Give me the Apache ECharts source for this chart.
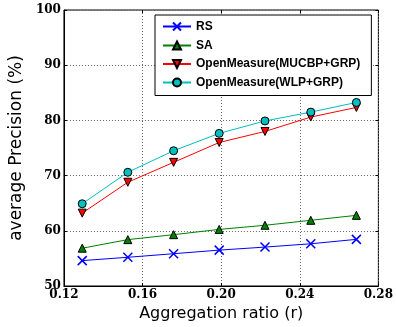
<!DOCTYPE html>
<html>
<head>
<meta charset="utf-8">
<script src="https://cdn.jsdelivr.net/npm/echarts@6/dist/echarts.min.js"></script>
<style>
  html, body { margin: 0; padding: 0; background: #fff; }
  #chart { width: 396px; height: 327px; }
</style>
</head>
<body>
<div id="chart"></div>
<script>
const ratios = [0.1293, 0.1525, 0.1758, 0.1990, 0.2223, 0.2456, 0.2688];
const rs = [54.6, 55.2, 55.85, 56.5, 57.05, 57.65, 58.45];
const sa = [56.85, 58.4, 59.3, 60.25, 61.0, 61.9, 62.8];
const mucbp = [63.2, 68.8, 72.4, 76.0, 78.0, 80.6, 82.35];
const wlp = [64.9, 70.6, 74.5, 77.65, 79.9, 81.5, 83.25];

const pairs = (ys) => ratios.map((x, i) => [x, ys[i]]);

const tickFont = { fontFamily: 'DejaVu Serif', fontWeight: 'bold', fontSize: 12, color: '#000' };
const dotted = { show: true, lineStyle: { color: '#666', type: [1, 2], width: 1 } };

const chart = echarts.init(document.getElementById('chart'));

const makeSeries = (name, ys, color, symbol, extra) => Object.assign({
  name,
  type: 'line',
  data: pairs(ys),
  symbol,
  symbolSize: 8,
  lineStyle: { color, width: 1 },
  itemStyle: { color, borderColor: '#000', borderWidth: 1 },
  emphasis: { disabled: true },
  animation: false
}, extra || {});

chart.setOption({
  backgroundColor: '#fff',
  grid: { left: 55, right: 13, top: 10, bottom: 41, show: true, borderColor: '#000', borderWidth: 1 },
  legend: {
    orient: 'vertical',
    left: 155,
    top: 15,
    padding: [5, 11, 7, 7],
    itemGap: 6.5,
    itemWidth: 28,
    itemHeight: 10,
    borderColor: '#000',
    borderWidth: 1,
    backgroundColor: '#fff',
    textStyle: { fontFamily: 'Liberation Sans', fontWeight: 'bold', fontSize: 12, color: '#000' },
    data: ['RS', 'SA', 'OpenMeasure(MUCBP+GRP)', 'OpenMeasure(WLP+GRP)']
  },
  xAxis: [{
    type: 'value',
    min: 0.12,
    max: 0.28,
    interval: 0.04,
    name: 'Aggregation ratio (r)',
    nameLocation: 'middle',
    nameGap: 17,
    nameTextStyle: { fontFamily: 'DejaVu Sans', fontSize: 16, color: '#000' },
    axisLine: { show: true, lineStyle: { color: '#000' } },
    axisTick: { inside: true, length: 3, lineStyle: { color: '#000' } },
    axisLabel: Object.assign({ margin: 3, formatter: (v) => v.toFixed(2) }, tickFont),
    splitLine: dotted
  }, {
    type: 'value', position: 'top', min: 0.12, max: 0.28, interval: 0.04,
    axisLine: { show: false },
    axisTick: { inside: true, length: 3, lineStyle: { color: '#000' } },
    axisLabel: { show: false }, splitLine: { show: false }
  }],
  yAxis: [{
    type: 'value',
    min: 50,
    max: 100,
    interval: 10,
    name: 'average Precision (%)',
    nameLocation: 'middle',
    nameGap: 30,
    nameTextStyle: { fontFamily: 'DejaVu Sans', fontSize: 17, color: '#000' },
    axisLine: { show: true, lineStyle: { color: '#000' } },
    axisTick: { inside: true, length: 3, lineStyle: { color: '#000' } },
    axisLabel: Object.assign({ margin: 3 }, tickFont),
    splitLine: dotted
  }, {
    type: 'value', position: 'right', min: 50, max: 100, interval: 10,
    axisLine: { show: false },
    axisTick: { inside: true, length: 3, lineStyle: { color: '#000' } },
    axisLabel: { show: false }, splitLine: { show: false }
  }],
  series: [
    makeSeries('RS', rs, '#0000ff', 'path://M0,0L10,10M10,0L0,10', {
      symbolSize: 9,
      itemStyle: { color: 'none', borderColor: '#0000ff', borderWidth: 1.5 }
    }),
    makeSeries('SA', sa, '#008000', 'triangle'),
    makeSeries('OpenMeasure(MUCBP+GRP)', mucbp, '#ff0000', 'triangle', { symbolRotate: 180 }),
    makeSeries('OpenMeasure(WLP+GRP)', wlp, '#00bfbf', 'circle')
  ]
});
</script>
</body>
</html>
